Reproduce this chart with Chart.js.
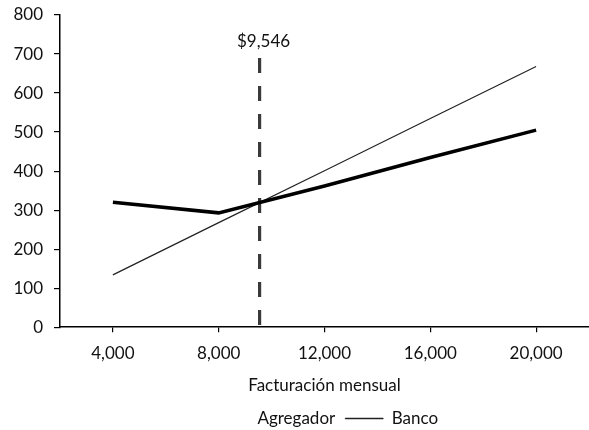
<!DOCTYPE html>
<html>
<head>
<meta charset="utf-8">
<script src="https://cdn.jsdelivr.net/npm/chart.js@4.4.1/dist/chart.umd.min.js"></script>
<style>
  html, body { margin: 0; padding: 0; background: #ffffff; }
  #wrap { width: 589px; height: 430px; }
</style>
</head>
<body>
<div id="wrap"><canvas id="c" width="589" height="430"></canvas></div>
<script>
// Monthly billing levels (x) and the cost of each option (y)
const facturacion = [4000, 8000, 12000, 16000, 20000];
const agregador = [320, 293, 362, 435, 505];
const banco = [134, 268, 401, 535, 668];

// Break-even billing level and the height of its marker line
const breakEven = 9546;
const breakEvenTop = 690;

// Axis ticks
const xTicks = [4000, 8000, 12000, 16000, 20000];
const yTicks = [0, 100, 200, 300, 400, 500, 600, 700, 800];

const FONT = 'Lato, "DejaVu Sans", sans-serif';
const FS = 17;
const INK = '#111111';

const toPoints = (xs, ys) => xs.map((x, i) => ({ x: x, y: ys[i] }));
const fmt = v => v.toLocaleString('en-US');

// Label above the break-even marker
const breakEvenLabel = {
  id: 'breakEvenLabel',
  afterDatasetsDraw(chart) {
    const xs = chart.scales.x, ys = chart.scales.y;
    const ctx = chart.ctx;
    ctx.save();
    ctx.font = FS + 'px ' + FONT;
    ctx.fillStyle = INK;
    ctx.textAlign = 'center';
    ctx.textBaseline = 'bottom';
    ctx.fillText('$' + fmt(breakEven), xs.getPixelForValue(breakEven) + 4, ys.getPixelForValue(breakEvenTop) - 8);
    ctx.restore();
  }
};

new Chart(document.getElementById('c'), {
  type: 'line',
  data: {
    datasets: [
      {
        label: 'Agregador',
        data: toPoints(facturacion, agregador),
        borderColor: '#000000',
        backgroundColor: '#000000',
        borderWidth: 3.5,
        pointRadius: 0,
        tension: 0
      },
      {
        label: 'Banco',
        data: toPoints(facturacion, banco),
        borderColor: '#222222',
        backgroundColor: '#222222',
        borderWidth: 1.2,
        pointRadius: 0,
        tension: 0
      },
      {
        label: 'breakEven',
        data: [{ x: breakEven, y: breakEvenTop }, { x: breakEven, y: 0 }],
        borderColor: '#3a3a3a',
        borderWidth: 3.2,
        borderDash: [15, 13],
        pointRadius: 0
      }
    ]
  },
  plugins: [breakEvenLabel],
  options: {
    responsive: false,
    animation: false,
    devicePixelRatio: 1,
    layout: { padding: { top: 15, right: 0, left: 0, bottom: -7 } },
    plugins: {
      tooltip: { enabled: false },
      legend: {
        position: 'bottom',
        fullSize: false,
        labels: {
          color: INK,
          font: { family: FONT, size: FS },
          boxWidth: 38,
          boxHeight: 1,
          padding: 10,
          filter: item => item.text !== 'breakEven',
          generateLabels(chart) {
            const items = Chart.defaults.plugins.legend.labels.generateLabels(chart);
            items.forEach(it => {
              if (it.text === 'Agregador') {
                it.fillStyle = 'rgba(0,0,0,0)';
                it.strokeStyle = 'rgba(0,0,0,0)';
              } else {
                it.lineWidth = 0.5;
              }
            });
            return items;
          }
        }
      }
    },
    scales: {
      x: {
        type: 'linear',
        min: 2000,
        max: 22000,
        afterBuildTicks(scale) { scale.ticks = xTicks.map(v => ({ value: v })); },
        ticks: {
          color: INK,
          font: { family: FONT, size: FS },
          padding: 11,
          maxRotation: 0,
          callback: v => fmt(v)
        },
        grid: { display: true, drawOnChartArea: false, drawTicks: true, tickLength: 5, color: '#000000', lineWidth: 1.2 },
        border: { display: true, color: '#000000', width: 1.5 },
        title: {
          display: true,
          text: 'Facturación mensual',
          color: INK,
          font: { family: FONT, size: FS },
          padding: { top: 1, bottom: 4 }
        }
      },
      y: {
        type: 'linear',
        min: 0,
        max: 800,
        afterBuildTicks(scale) { scale.ticks = yTicks.map(v => ({ value: v })); },
        afterFit(scale) { scale.width = 60; scale.paddingTop = 0; scale.paddingBottom = 0; },
        ticks: {
          color: INK,
          font: { family: FONT, size: FS },
          padding: 11
        },
        grid: { display: true, drawOnChartArea: false, drawTicks: true, tickLength: 6, color: '#000000', lineWidth: 1.2 },
        border: { display: true, color: '#000000', width: 1.5 }
      }
    }
  }
});
</script>
</body>
</html>
